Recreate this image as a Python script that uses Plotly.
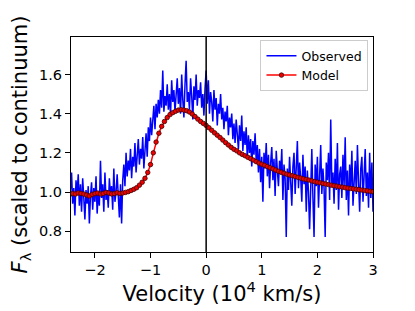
import numpy as np
import plotly.graph_objects as go

# Observed spectrum (velocity grid -2.5 .. 3.0 step 0.02, in 10^4 km/s)
obs_start, obs_step = -2.5, 0.02
observed = [
    0.96, 1.08, 0.92, 1.05, 1.10, 0.94, 1.02, 0.88, 1.06, 0.99,
    1.09, 0.93, 1.04, 0.90, 1.07, 0.97, 0.86, 1.01, 0.94, 1.03,
    0.84, 0.98, 1.05, 0.91, 1.02, 0.95, 1.08, 0.89, 1.00, 0.93,
    1.16, 0.97, 1.04, 0.90, 1.10, 0.96, 1.01, 0.92, 1.07, 0.98,
    1.03, 0.91, 1.12, 0.95, 1.00, 1.09, 0.94, 0.87, 1.04, 0.84,
    1.06, 1.14, 1.03, 1.20, 1.08, 1.16, 1.11, 1.22, 1.07, 1.18,
    1.13, 1.25, 1.10, 1.19, 1.27, 1.14, 1.22, 1.17, 1.28, 1.12,
    1.23, 1.30, 1.18, 1.33, 1.26, 1.38, 1.29, 1.36, 1.44, 1.32,
    1.45, 1.38, 1.47, 1.40, 1.52, 1.43, 1.62, 1.41, 1.49, 1.44,
    1.55, 1.42, 1.50, 1.39, 1.57, 1.46, 1.52, 1.41, 1.48, 1.58,
    1.45, 1.53, 1.40, 1.60, 1.47, 1.38, 1.55, 1.67, 1.46, 1.51,
    1.42, 1.58, 1.49, 1.37, 1.54, 1.47, 1.60, 1.44, 1.52, 1.48,
    1.56, 1.43, 1.50, 1.39, 1.53, 1.62, 1.45, 1.57, 1.40, 1.51,
    1.46, 1.36, 1.52, 1.42, 1.48, 1.34, 1.45, 1.40, 1.50, 1.37,
    1.43, 1.32, 1.41, 1.36, 1.44, 1.29, 1.38, 1.33, 1.40, 1.27,
    1.35, 1.25, 1.37, 1.30, 1.22, 1.34, 1.26, 1.39, 1.21, 1.31,
    1.24, 1.33, 1.17, 1.29, 1.20, 1.27, 1.13, 1.26, 1.19, 1.30,
    1.16, 1.24, 1.10, 1.22, 1.05, 1.18, 0.95, 1.20, 1.12, 1.25,
    1.08, 1.19, 1.02, 1.15, 1.23, 1.06, 1.17, 0.98, 1.21, 1.11,
    1.03, 1.16, 1.09, 1.22, 0.96, 1.14, 1.07, 0.77, 1.12, 1.01,
    1.18, 1.05, 0.93, 1.13, 1.20, 0.99, 1.10, 1.26, 1.02, 1.15,
    1.07, 0.95, 1.19, 1.04, 1.13, 0.90, 1.11, 1.00, 0.81, 1.09,
    1.22, 0.97, 0.77, 1.14, 1.03, 1.18, 0.92, 1.08, 1.24, 0.99,
    1.12, 1.02, 0.77, 1.15, 1.06, 1.20, 0.96, 1.37, 1.04, 1.10,
    0.94, 1.17, 1.01, 1.25, 0.91, 1.09, 1.13, 0.97, 1.19, 1.03,
    1.28, 0.96, 1.11, 0.88, 1.14, 1.02, 1.21, 0.93, 1.07, 1.16,
    0.99, 1.24, 1.05, 0.90, 1.12, 1.18, 0.95, 1.08, 1.22, 0.98,
    1.10, 0.92, 1.20, 0.97, 1.15, 0.90,
]

# Model (velocity grid -2.5 .. 3.0 step 0.05)
mod_start, mod_step = -2.5, 0.05
model = [
    0.990, 0.988, 0.992, 0.990, 0.995, 0.993, 0.990, 0.985, 0.980, 0.988,
    0.992, 0.995, 0.990, 0.993, 0.998, 0.995, 0.990, 0.992, 0.996, 0.993,
    0.995, 0.998, 1.002, 1.008, 1.014, 1.022, 1.035, 1.050, 1.070, 1.100,
    1.140, 1.200, 1.255, 1.300, 1.335, 1.360, 1.380, 1.395, 1.405, 1.412,
    1.418, 1.420, 1.418, 1.415, 1.408, 1.398, 1.385, 1.372, 1.360, 1.350,
    1.340, 1.328, 1.315, 1.302, 1.290, 1.278, 1.265, 1.252, 1.240, 1.228,
    1.218, 1.210, 1.200, 1.192, 1.185, 1.177, 1.170, 1.163, 1.155, 1.148,
    1.142, 1.136, 1.130, 1.124, 1.118, 1.112, 1.106, 1.101, 1.096, 1.091,
    1.087, 1.083, 1.079, 1.075, 1.071, 1.067, 1.064, 1.061, 1.057, 1.053,
    1.050, 1.047, 1.044, 1.041, 1.038, 1.035, 1.032, 1.030, 1.027, 1.025,
    1.022, 1.020, 1.018, 1.016, 1.014, 1.012, 1.010, 1.008, 1.006, 1.004,
    1.002,
]

x_ticks = [-2, -1, 0, 1, 2, 3]
x_tick_text = ["\u22122", "\u22121", "0", "1", "2", "3"]
y_ticks = [0.8, 1.0, 1.2, 1.4, 1.6]
y_tick_text = ["0.8", "1.0", "1.2", "1.4", "1.6"]

x_obs = np.round(obs_start + obs_step * np.arange(len(observed)), 4)
x_mod = np.round(mod_start + mod_step * np.arange(len(model)), 4)

FONT = "DejaVu Sans"

fig = go.Figure()
fig.add_trace(go.Scatter(
    x=x_obs, y=observed, mode="lines", name="Observed",
    line=dict(color="#0000ff", width=1.5),
))
fig.add_trace(go.Scatter(
    x=x_mod, y=model, mode="lines+markers", name="Model",
    line=dict(color="#ff0000", width=1.5),
    marker=dict(color="#ee0000", size=4.5, line=dict(color="#400000", width=0.8)),
))

fig.add_shape(type="line", x0=0, x1=0, y0=0, y1=1, xref="x", yref="paper",
              line=dict(color="black", width=1.5))

axis_common = dict(
    showline=True, linecolor="black", linewidth=1, mirror=True,
    ticks="outside", ticklen=5, tickcolor="black", tickwidth=1,
    showgrid=False, zeroline=False, automargin=False,
    tickfont=dict(family=FONT, size=14.5, color="black"),
)

fig.update_xaxes(
    range=[-2.43, 3.0], tickvals=x_ticks, ticktext=x_tick_text,
    title=dict(text="Velocity (10<sup>4</sup> km/s)", font=dict(family=FONT, size=21, color="black"),
               standoff=5),
    **axis_common,
)
fig.update_yaxes(
    range=[0.694, 1.791], tickvals=y_ticks, ticktext=y_tick_text,
    title=dict(text="<i>F</i><sub>\u03bb</sub> (scaled to continuum)",
               font=dict(family=FONT, size=21, color="black"), standoff=10),
    **axis_common,
)

# page body has an 8px default margin: compensate so the frame lands where the reference has it
fig.update_layout(
    width=415, height=311,
    margin=dict(l=63, r=50, t=29, b=67),
    paper_bgcolor="white", plot_bgcolor="white",
    showlegend=True,
    legend=dict(
        x=0.985, y=0.985, xanchor="right", yanchor="top",
        bgcolor="rgba(255,255,255,0.85)", bordercolor="#cccccc", borderwidth=1,
        font=dict(family=FONT, size=12.5, color="black"),
        tracegroupgap=0,
    ),
)

fig.write_html("out.html")
